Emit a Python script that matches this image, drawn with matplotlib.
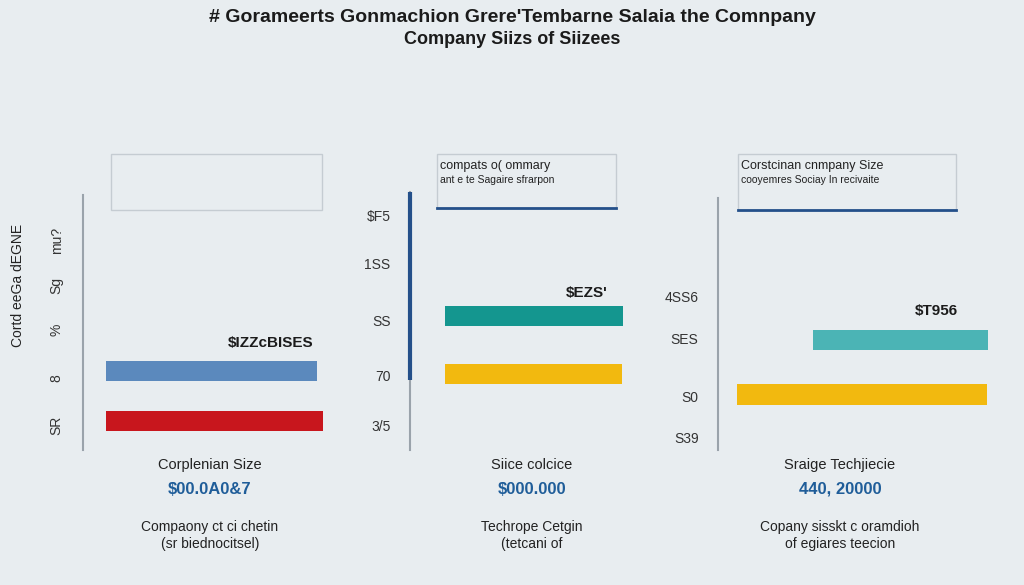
import matplotlib
matplotlib.use("Agg")
import matplotlib.pyplot as plt
from matplotlib.patches import Rectangle

plt.rcParams["font.family"] = ["Liberation Sans", "DejaVu Sans"]

# -----------------------------
# Data
# -----------------------------
title_line1 = "# Gorameerts Gonmachion Grere'Tembarne Salaia the Comnpany"
title_line2 = "Company Siizs of Siizees"

# panel 1
p1_bar_start = [8.8, 8.8]
p1_bar_width = [81.2, 83.5]
p1_bar_pos = [73.7, 90.3]
p1_bar_colors = ["#5b89bd", "#c8161d"]
p1_ticks = [30, 45, 60, 76, 91.7]
p1_ticklabels = ["mu?", "Sg", "%", "8", "SR"]
p1_value_label = "$IZZcBISES"
p1_ylabel = "Cortd eeGa dEGNE"

# panel 2
p2_bar_start = [13.5, 13.5]
p2_bar_width = [68.4, 68.0]
p2_bar_pos = [55.2, 74.8]
p2_bar_colors = ["#14968f", "#f2b90f"]
p2_ticks = [21.7, 37.7, 56.7, 75.3, 91.7]
p2_ticklabels = ["$F5", "1SS", "SS", "70", "3/5"]
p2_value_label = "$EZS'"
p2_box_text = ["compats o( ommary", "ant e te Sagaire sfrarpon"]

# panel 3
p3_bar_start = [33.2, 6.6]
p3_bar_width = [61.2, 87.5]
p3_bar_pos = [63.2, 81.5]
p3_bar_colors = ["#4bb4b5", "#f2b90f"]
p3_ticks = [49, 63, 82, 95.7]
p3_ticklabels = ["4SS6", "SES", "S0", "S39"]
p3_value_label = "$T956"
p3_box_text = ["Corstcinan cnmpany Size", "cooyemres Sociay In recivaite"]

# bottom captions
cap_names = ["Corplenian Size", "Siice colcice", "Sraige Techjiecie"]
cap_values = ["$00.0A0&7", "$000.000", "440, 20000"]
cap_notes1 = ["Compaony ct ci chetin", "Techrope Cetgin", "Copany sisskt c oramdioh"]
cap_notes2 = ["(sr biednocitsel)", "(tetcani of", "of egiares teecion"]
cap_x = [210, 532, 840]

BG = "#e8edf0"
W, H = 1024, 585

fig = plt.figure(figsize=(W / 100, H / 100), dpi=100, facecolor=BG)


def fx(px):
    return px / W


def fy(py):
    return 1 - py / H


fig.text(0.5, fy(17), title_line1, ha="center", va="center",
         fontsize=14, fontweight="bold", color="#1b1b1b")
fig.text(0.5, fy(40), title_line2, ha="center", va="center",
         fontsize=13, fontweight="bold", color="#1b1b1b")


def make_panel(left_px, width_px, spine_top, spine_color):
    # axes cover pixel rows 150..450, data y 0..100 (inverted)
    ax = fig.add_axes([fx(left_px), fy(450), width_px / W, 300 / H])
    ax.set_facecolor("none")
    ax.set_xlim(0, 100)
    ax.set_ylim(100, 0)
    for s in ["top", "right", "bottom"]:
        ax.spines[s].set_visible(False)
    ax.spines["left"].set_bounds(spine_top, 100)
    ax.spines["left"].set_color(spine_color)
    ax.spines["left"].set_linewidth(1.5)
    ax.set_xticks([])
    ax.tick_params(axis="y", length=0, labelsize=10, labelcolor="#333333")
    return ax


# -----------------------------
# Panel 1
# -----------------------------
ax1 = make_panel(83, 260, 15, "#9aa3ab")
ax1.barh(p1_bar_pos, p1_bar_width, left=p1_bar_start, height=6.7,
         color=p1_bar_colors)
ax1.set_yticks(p1_ticks)
ax1.set_yticklabels(p1_ticklabels, rotation=90, va="center")
ax1.tick_params(axis="y", pad=14)
ax1.add_patch(Rectangle((10.8, 1.3), 81.1, 18.7, fill=False,
                        edgecolor="#c5ccd2", linewidth=1))
ax1.text(88.5, 64.3, p1_value_label, ha="right", va="center",
         fontsize=11, fontweight="bold", color="#1b1b1b")
fig.text(fx(18), fy(285), p1_ylabel, rotation=90, ha="center", va="center",
         fontsize=10, color="#222222")

# -----------------------------
# Panel 2
# -----------------------------
ax2 = make_panel(410, 260, 14, "#9aa3ab")
ax2.plot([0, 0], [14, 76.7], color="#24508a", linewidth=3,
         solid_capstyle="butt", clip_on=False, zorder=5)
ax2.barh(p2_bar_pos, p2_bar_width, left=p2_bar_start, height=6.7,
         color=p2_bar_colors)
ax2.set_yticks(p2_ticks)
ax2.set_yticklabels(p2_ticklabels)
ax2.tick_params(axis="y", pad=14)
ax2.add_patch(Rectangle((10.4, 1.3), 68.8, 18.0, fill=False,
                        edgecolor="#c5ccd2", linewidth=1))
ax2.plot([10.4, 79.2], [19.3, 19.3], color="#24508a", linewidth=2)
ax2.text(11.5, 5.5, p2_box_text[0], ha="left", va="center",
         fontsize=9, color="#222222")
ax2.text(11.5, 10.0, p2_box_text[1], ha="left", va="center",
         fontsize=7.5, color="#222222")
ax2.text(75.8, 47.7, p2_value_label, ha="right", va="center",
         fontsize=11, fontweight="bold", color="#1b1b1b")

# -----------------------------
# Panel 3
# -----------------------------
ax3 = make_panel(718, 286, 16, "#9aa3ab")
ax3.barh(p3_bar_pos, p3_bar_width, left=p3_bar_start, height=6.7,
         color=p3_bar_colors)
ax3.set_yticks(p3_ticks)
ax3.set_yticklabels(p3_ticklabels)
ax3.tick_params(axis="y", pad=14)
ax3.add_patch(Rectangle((7.0, 1.3), 76.2, 18.7, fill=False,
                        edgecolor="#c5ccd2", linewidth=1))
ax3.plot([7.0, 83.2], [20.0, 20.0], color="#24508a", linewidth=2)
ax3.text(8.0, 5.5, p3_box_text[0], ha="left", va="center",
         fontsize=9, color="#222222")
ax3.text(8.0, 10.0, p3_box_text[1], ha="left", va="center",
         fontsize=7.5, color="#222222")
ax3.text(83.9, 53.7, p3_value_label, ha="right", va="center",
         fontsize=11, fontweight="bold", color="#1b1b1b")

# -----------------------------
# Bottom captions
# -----------------------------
for i in range(3):
    fig.text(fx(cap_x[i]), fy(465), cap_names[i], ha="center", va="center",
             fontsize=10.5, color="#222222")
    fig.text(fx(cap_x[i]), fy(489), cap_values[i], ha="center", va="center",
             fontsize=12, fontweight="bold", color="#1f5d99")
    fig.text(fx(cap_x[i]), fy(527), cap_notes1[i], ha="center", va="center",
             fontsize=10, color="#222222")
    fig.text(fx(cap_x[i]), fy(544), cap_notes2[i], ha="center", va="center",
             fontsize=10, color="#222222")

fig.savefig("out.png", dpi=100, facecolor=BG)
